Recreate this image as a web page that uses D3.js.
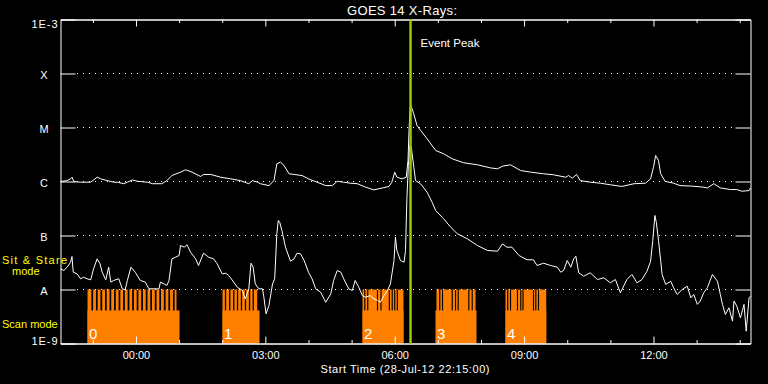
<!DOCTYPE html>
<html><head><meta charset="utf-8">
<script src="https://cdn.jsdelivr.net/npm/d3@7"></script>
<style>
body{margin:0;background:#000}
svg{display:block;background:#000}
text{font-family:"Liberation Sans",Arial,sans-serif;}
</style>
</head><body><svg id="c" width="768" height="384"></svg>
<script>
// ---------- data ----------
const startTime = Date.UTC(2012, 6, 28, 22, 15);   // 28-Jul-12 22:15:00
const durationMin = 960;
const titleText = "GOES 14 X-Rays:";
const xAxisTitle = "Start Time (28-Jul-12 22:15:00)";
const yTickValues = [1e-3, 1e-4, 1e-5, 1e-6, 1e-7, 1e-8, 1e-9];
const yTickLabels = ["1E-3", "X", "M", "C", "B", "A", "1E-9"];
const eventPeakMin = 487;
const eventLabel = "Event Peak";

// long channel (1-8 A): [minutes after start, W/m^2]
const longChannel = [
 [0,1.00e-6],[9,1.04e-6],[14,1.12e-6],[16,1.20e-6],[18.5,1.00e-6],[28,0.97e-6],[42,0.97e-6],[51,1.20e-6],
 [56,1.12e-6],[65,1.04e-6],[74,0.97e-6],[79,0.97e-6],[88,0.91e-6],[93,0.97e-6],[100,1.07e-6],[107,1.01e-6],
 [121,0.97e-6],[128,0.91e-6],[141,0.91e-6],[148,1.04e-6],[155,1.29e-6],[167,1.49e-6],[174,1.65e-6],[183,1.49e-6],
 [195,1.24e-6],[199,1.35e-6],[209,1.35e-6],[223,1.20e-6],[237,1.12e-6],[250,1.04e-6],[262,0.91e-6],[267,1.04e-6],
 [274,0.97e-6],[278,0.91e-6],[290,0.84e-6],[297,1.04e-6],[301,2.13e-6],[306,2.28e-6],[311,1.98e-6],[318,1.39e-6],
 [325,1.35e-6],[336,1.29e-6],[345,1.12e-6],[357,0.97e-6],[369,0.84e-6],[378,0.84e-6],[385,1.01e-6],[394,0.97e-6],
 [403,0.93e-6],[413,0.91e-6],[424,0.79e-6],[436,0.70e-6],[448,0.76e-6],[457,0.81e-6],[461,0.97e-6],[465,1.49e-6],
 [468,1.20e-6],[475,1.12e-6],[481,1.20e-6],[483.5,2.45e-6],[484.9,8.8e-6],[486.3,2.25e-5],[487.6,2.56e-5],[489,2.25e-5],
 [491.3,1.82e-5],[496,1.09e-5],[501,8.8e-6],[510,6.2e-6],[522,3.75e-6],[533,3.26e-6],[545,2.63e-6],[561,2.22e-6],
 [580,2.04e-6],[598,1.79e-6],[608,1.72e-6],[615,1.92e-6],[626,2.04e-6],[640,1.60e-6],[654,1.49e-6],[672,1.39e-6],
 [686,1.33e-6],[703,1.20e-6],[707,1.29e-6],[712,1.15e-6],[718,1.35e-6],[723,1.04e-6],[737,0.97e-6],[751,0.93e-6],
 [765,0.87e-6],[781,0.81e-6],[798,0.91e-6],[814,0.93e-6],[821,1.12e-6],[825,1.84e-6],[828,3.03e-6],[832,2.45e-6],
 [835,1.39e-6],[841,1.01e-6],[853,0.93e-6],[862,0.84e-6],[879,0.82e-6],[893,0.79e-6],[900,0.76e-6],[909,0.91e-6],
 [918,0.76e-6],[932,0.71e-6],[941,0.71e-6],[948,0.66e-6],[958,0.68e-6],[960,0.76e-6]
];

// short channel (0.5-4 A): [minutes after start, W/m^2]
const shortChannel = [
 [0,2.42e-8],[4.6,2.25e-8],[9.3,2.59e-8],[14,3.2e-8],[16,4.08e-8],[17.7,2.09e-8],[23,1.95e-8],[28,1.58e-8],
 [32,1.69e-8],[37,1.58e-8],[42,1.51e-8],[46,2.42e-8],[51,3.7e-8],[55,2.99e-8],[58,2.09e-8],[63,1.51e-8],
 [67,2.59e-8],[70,1.37e-8],[74,1.47e-8],[81,1.58e-8],[86,1.03e-8],[90,0.99e-8],[93,1.47e-8],[98,2.59e-8],
 [104,2.09e-8],[111,1.47e-8],[118,1.37e-8],[123,1.03e-8],[130,1.03e-8],[137,1.03e-8],[139,1.37e-8],[144,1.27e-8],
 [148,1.19e-8],[151,1.47e-8],[155,3.7e-8],[160,3.97e-8],[165,4.26e-8],[167,6.53e-8],[172,6.08e-8],[176,6.72e-8],
 [181,4.9e-8],[188,3.7e-8],[192,2.78e-8],[199,4.7e-8],[206,3.97e-8],[213,3.7e-8],[218,2.99e-8],[225,1.95e-8],
 [230,2.0e-8],[234,1.82e-8],[241,1.37e-8],[246,1.10e-8],[253,0.96e-8],[257,0.67e-8],[262,1.03e-8],[265,3.07e-8],
 [268,2.59e-8],[271,1.27e-8],[276,1.03e-8],[281,1.03e-8],[283,0.72e-8],[286,0.355e-8],[290,0.506e-8],[295,1.27e-8],
 [298,1.58e-8],[301,1.08e-7],[303,1.9e-7],[305,1.76e-7],[308,1.24e-7],[313,6.08e-8],[320,3.34e-8],[325,3.7e-8],
 [329,4.7e-8],[334,4.58e-8],[339,3.44e-8],[345,2.09e-8],[350,1.58e-8],[355,1.03e-8],[362,0.89e-8],[369,0.58e-8],
 [376,0.83e-8],[380,1.47e-8],[385,2.25e-8],[390,2.09e-8],[394,1.58e-8],[401,1.03e-8],[406,0.96e-8],[410,1.47e-8],
 [415,1.10e-8],[420,0.77e-8],[424,0.72e-8],[431,0.77e-8],[436,0.67e-8],[441,0.63e-8],[445,0.58e-8],[450,0.77e-8],
 [455,0.96e-8],[459,1.27e-8],[464,3.44e-8],[466,9.3e-8],[468,5.28e-8],[473,3.44e-8],[478,3.2e-8],[480,5.28e-8],
 [482,5.12e-7],[484,1.98e-6],[486,4.64e-6],[488,4.32e-6],[494,1.04e-6],[501,9.06e-7],[510,6.33e-7],[517,4.14e-7],
 [522,2.9e-7],[531,2.18e-7],[533,2.04e-7],[543,1.42e-7],[552,1.08e-7],[566,8.68e-8],[580,6.53e-8],[594,5.28e-8],
 [608,5.12e-8],[615,7.0e-8],[621,6.08e-8],[628,6.08e-8],[638,4.26e-8],[649,3.55e-8],[658,3.55e-8],[663,2.78e-8],
 [672,3.07e-8],[682,2.78e-8],[691,2.59e-8],[696,2.09e-8],[700,2.25e-8],[705,3.44e-8],[710,2.59e-8],[714,3.7e-8],
 [717,4.14e-8],[721,2.04e-8],[728,1.76e-8],[737,2.04e-8],[747,1.53e-8],[756,1.65e-8],[765,1.33e-8],[772,1.53e-8],
 [779,0.87e-8],[788,1.53e-8],[795,1.9e-8],[802,1.33e-8],[809,1.53e-8],[816,2.18e-8],[821,3.34e-8],[824,8.08e-8],
 [827,2.35e-7],[829,1.74e-7],[832,8.08e-8],[835,3.44e-8],[837,1.9e-8],[842,1.24e-8],[849,1.42e-8],[853,1.08e-8],
 [858,0.81e-8],[865,1.0e-8],[872,1.15e-8],[877,0.70e-8],[881,0.81e-8],[886,0.53e-8],[890,0.61e-8],[895,0.87e-8],
 [900,1.08e-8],[907,1.9e-8],[914,1.42e-8],[918,0.81e-8],[921,0.53e-8],[925,0.344e-8],[930,0.458e-8],[935,0.259e-8],
 [937,0.61e-8],[941,0.49e-8],[946,0.299e-8],[951,0.53e-8],[954,0.169e-8],[958,0.70e-8],[960,0.75e-8]
];

// observing mode blocks (minutes after start)
const blockLabels = ["0", "1", "2", "3", "4"];
const blockStart  = [37.6, 225.4, 420.2, 521.7, 619.1];
const blockEnd    = [165.6, 276.9, 477.2, 578.8, 675.8];
const stareStart  = [37.6, 225.4, 420.2, 523.1, 619.1];
const stareEnd    = [161.4, 273.7, 477.2, 577.4, 675.8];
// short returns to scan mode inside sit & stare periods [start, end]
const scanGaps = [
 [43,45.4],[49.3,51.7],[55.6,58],[61.9,64.3],[68.2,70.6],[74.5,76.9],[80.8,83.2],[87.1,89.5],[93.4,95.8],[99.7,102.1],
 [106,108.4],[112.3,114.7],[118.6,121],[124.9,127.3],[131.2,133.6],[137.5,139.9],[143.8,146.2],[150.1,152.5],[156.4,158.8],
 [228.7,230.5],[234.6,236.4],[240.2,242],[245.4,247.2],[250.9,252.7],[256.5,258.3],[262.1,263.9],[267.2,269],
 [422.6,424.2],[426.7,428.3],[440.2,441.8],[445.1,446.7],[456.7,458.3],[460.7,462.3],[464.2,465.8],[467.8,469.4],
 [526.9,528.5],[530.7,532.3],[544.2,545.8],[548.8,550.4],[552.5,554.1],[567.3,568.9],[572,573.6],
 [621.4,623],[625.3,626.9],[635,636.6],[639.6,641.2],[642.7,644.3],[657.3,658.9],[660.5,662.1],[664.2,665.8]
];
const modeLabels = ["Sit & Stare", "mode", "Scan mode"];

// ---------- drawing ----------
const W = 768, H = 384;
const L = 60, R = 750, T = 19, B = 343;
const svg = d3.select("#c");
svg.append("rect").attr("width", W).attr("height", H).attr("fill", "#000");

const tm = m => new Date(startTime + m * 60000);
const x = d3.scaleUtc().domain([tm(0), tm(durationMin)]).range([L + 0.5, R + 0.5]);
const y = d3.scaleLog().domain([1e-9, 1e-3]).range([B + 0.5, T + 0.5]);

const ORANGE = "#ff8000";
const stareLevel = 1e-8, scanLevel = 4.1e-9;

// mode blocks
const gB = svg.append("g");
blockStart.forEach((s, i) => {
  gB.append("rect").attr("x", x(tm(s))).attr("width", x(tm(blockEnd[i])) - x(tm(s)))
    .attr("y", y(scanLevel)).attr("height", B + 0.5 - y(scanLevel)).attr("fill", ORANGE);
  gB.append("rect").attr("x", x(tm(stareStart[i]))).attr("width", x(tm(stareEnd[i])) - x(tm(stareStart[i])))
    .attr("y", y(stareLevel)).attr("height", B + 0.5 - y(stareLevel)).attr("fill", ORANGE);
});
gB.selectAll("rect.gap").data(scanGaps).join("rect").attr("class", "gap")
  .attr("x", d => x(tm(d[0]))).attr("width", d => x(tm(d[1])) - x(tm(d[0])))
  .attr("y", y(stareLevel)).attr("height", y(scanLevel) - y(stareLevel)).attr("fill", "#000");
gB.selectAll("text").data(blockLabels).join("text")
  .attr("x", (d, i) => x(tm(blockStart[i])) + 1.5).attr("y", 339)
  .attr("fill", "#fff").attr("font-size", 15).text(d => d);

// dotted grid
const gridVals = yTickValues.slice(1, -1);
svg.append("g").selectAll("line").data(gridVals).join("line")
  .attr("x1", L + 17).attr("x2", R - 15).attr("y1", d => y(d)).attr("y2", d => y(d))
  .attr("stroke", "#fff").attr("stroke-width", 1).attr("stroke-dasharray", "1,5");

// curves
const line = d3.line().x(d => x(tm(d[0]))).y(d => y(d[1]));
svg.append("path").datum(longChannel).attr("d", line).attr("fill", "none").attr("stroke", "#fff").attr("stroke-width", 1);
svg.append("path").datum(shortChannel).attr("d", line).attr("fill", "none").attr("stroke", "#fff").attr("stroke-width", 1);

// axes
const hours = d3.utcHour.range(tm(0), tm(durationMin));
const major = hours.filter(d => d.getUTCHours() % 3 === 0);
const minor = hours.filter(d => d.getUTCHours() % 3 !== 0);
const fmt = d3.utcFormat("%H:%M");

function style(g) {
  g.attr("font-family", null).attr("font-size", null);
  g.selectAll("path.domain").attr("stroke", "#fff").attr("stroke-width", 1);
  g.selectAll(".tick line").attr("stroke", "#fff").attr("stroke-width", 1);
  g.selectAll("text").attr("fill", "#fff").attr("font-size", 11);
}
svg.append("g").attr("transform", `translate(0,${B + 0.5})`)
  .call(d3.axisBottom(x).tickValues(major).tickSize(-7).tickSizeOuter(0).tickPadding(8).tickFormat(fmt)).call(style);
svg.append("g").attr("transform", `translate(0,${B + 0.5})`)
  .call(d3.axisBottom(x).tickValues(minor).tickSize(-3.5).tickSizeOuter(0).tickFormat("")).call(style);
svg.append("g").attr("transform", `translate(0,${T + 0.5})`)
  .call(d3.axisTop(x).tickValues(major).tickSize(-7).tickSizeOuter(0).tickFormat("")).call(style);
svg.append("g").attr("transform", `translate(0,${T + 0.5})`)
  .call(d3.axisTop(x).tickValues(minor).tickSize(-3.5).tickSizeOuter(0).tickFormat("")).call(style);

const gl = svg.append("g").attr("transform", `translate(${L + 0.5},0)`)
  .call(d3.axisLeft(y).tickValues(yTickValues).tickSize(-15).tickSizeOuter(0).tickPadding(3)
    .tickFormat((d, i) => yTickLabels[i])).call(style);
gl.selectAll(".tick text").each(function(d, i) {
  const t = d3.select(this);
  if (yTickLabels[i].length === 1) t.attr("text-anchor", "middle").attr("x", -16.5).attr("dy", "0.42em");
  else t.attr("textLength", 26).attr("lengthAdjust", "spacing");
  if (i === 0) t.attr("dy", "0.75em");
  if (i === yTickLabels.length - 1) t.attr("dy", "0.05em");
});
svg.append("g").attr("transform", `translate(${R + 0.5},0)`)
  .call(d3.axisRight(y).tickValues(yTickValues).tickSize(-15).tickSizeOuter(0).tickFormat("")).call(style);

// event peak line
svg.append("line").attr("x1", x(tm(eventPeakMin))).attr("x2", x(tm(eventPeakMin)))
  .attr("y1", T).attr("y2", B + 1).attr("stroke", "#99cc00").attr("stroke-width", 2.5);
svg.append("text").attr("x", x(tm(eventPeakMin)) + 10).attr("y", 46.5)
  .attr("fill", "#fff").attr("font-size", 11.5).attr("textLength", 59).attr("lengthAdjust", "spacing").text(eventLabel);

// titles
svg.append("text").attr("x", 402).attr("y", 14.5).attr("text-anchor", "middle")
  .attr("fill", "#fff").attr("font-size", 13).attr("textLength", 110).attr("lengthAdjust", "spacing").text(titleText);
svg.append("text").attr("x", 405).attr("y", 372.5).attr("text-anchor", "middle")
  .attr("fill", "#fff").attr("font-size", 11).attr("textLength", 169).attr("lengthAdjust", "spacing").text(xAxisTitle);

// mode labels
svg.append("text").attr("x", 2).attr("y", 263.5).attr("fill", "#ffff00").attr("font-size", 11)
  .attr("textLength", 65).attr("lengthAdjust", "spacing").text(modeLabels[0]);
svg.append("text").attr("x", 12).attr("y", 274.5).attr("fill", "#ffff00").attr("font-size", 11).text(modeLabels[1]);
svg.append("text").attr("x", 2).attr("y", 328).attr("fill", "#ffff00").attr("font-size", 11).text(modeLabels[2]);
</script>
</body></html>
